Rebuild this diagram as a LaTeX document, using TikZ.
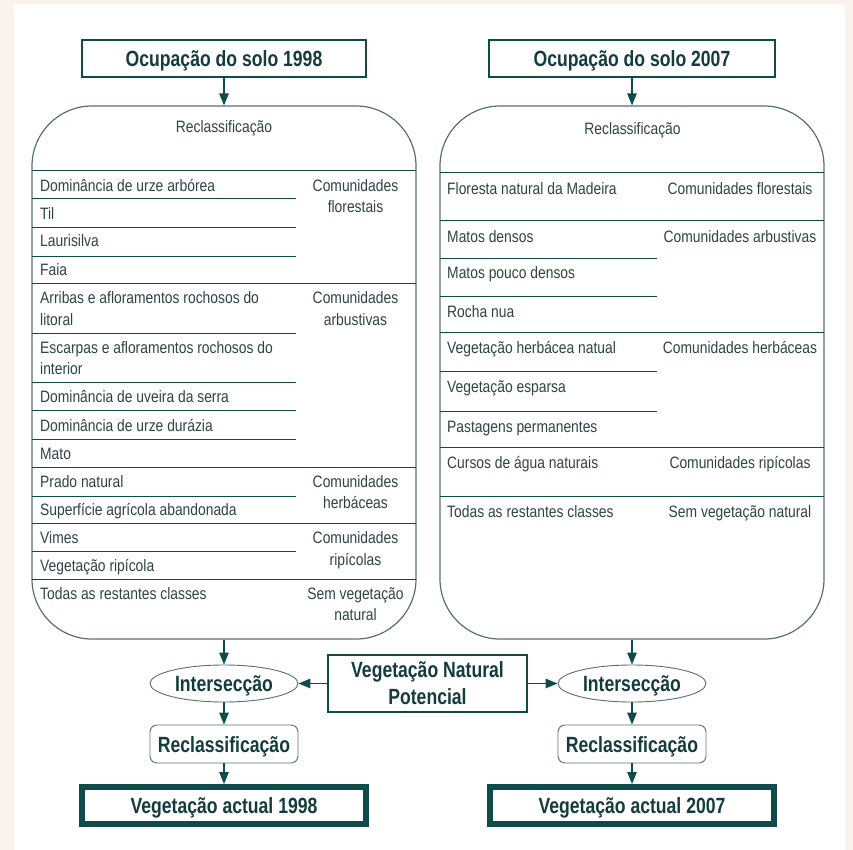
\documentclass[tikz,border=0pt]{standalone}
\usepackage{fontspec}
\setmainfont{Liberation Sans}
\newfontfamily\bodyfam[FakeStretch=0.84]{Liberation Sans}
\newfontfamily\headfam[FakeStretch=0.8]{Liberation Sans}
\usetikzlibrary{arrows.meta,shapes.geometric}
\definecolor{peach}{HTML}{FCF2EC}
\definecolor{teal1}{HTML}{0F4C49}
\definecolor{headtxt}{HTML}{143B3D}
\definecolor{bodytxt}{HTML}{2F4445}
\definecolor{edgecol}{HTML}{587170}
\begin{document}
\begin{tikzpicture}[x=1pt,y=-1pt,
  arr/.style={draw=teal1, line width=1.3pt, -{Triangle[length=12pt,width=9.5pt]}},
  headtext/.style={font=\headfam\bfseries\fontsize{22pt}{27pt}\selectfont, text=headtxt, text height=16pt, text depth=0pt, inner sep=0pt, align=center},
  hbox/.style={headtext, draw=teal1, line width=1.3pt, fill=white},
  panel/.style={draw=edgecol, line width=1.2pt, rounded corners=60pt, inner sep=0pt},
  body/.style={font=\bodyfam\fontsize{16.5pt}{20pt}\selectfont, text=bodytxt, inner sep=0pt},
  itm/.style={body, anchor=base west},
  cat/.style={body, anchor=base},
  tline/.style={draw=teal1, line width=1pt},
  ell/.style={headtext, ellipse, draw=edgecol, line width=0.9pt, minimum width=148pt, minimum height=37pt},
  rbox/.style={headtext, draw=edgecol, line width=0.9pt, rounded corners=7pt, minimum width=148pt, minimum height=38pt},
  fbox/.style={headtext, draw=teal1, line width=6pt, minimum width=284pt, minimum height=37pt},
]
% background
\fill[peach] (0,0) rectangle (853,850);
\fill[white] (14,4) rectangle (845,850);

% top boxes
\node[hbox, minimum width=284pt, minimum height=37pt] (t1) at (224,58.5) {Ocupação do solo 1998};
\node[hbox, minimum width=286pt, minimum height=37pt] (t2) at (632,58.5) {Ocupação do solo 2007};

% panels
\node[panel, minimum width=384pt, minimum height=533pt] (p1) at (224,372.5) {};
\node[panel, minimum width=384pt, minimum height=533pt] (p2) at (632,372.5) {};
\draw[arr] (t1) -- (p1);
\draw[arr] (t2) -- (p2);

\node[cat] (r1) at (224,133) {Reclassificação};
\node[cat] (r2) at (632.5,135) {Reclassificação};

% left table lines
\foreach \y in {171,283,467,523,579} \draw[tline] (32,\y) -- (416,\y);
\foreach \y in {199,228,256,333,382,410,439,496,551} \draw[tline] (32,\y) -- (296,\y);

% left items
\node[itm] (a1) at (40,192) {Dominância de urze arbórea};
\node[itm] (a2) at (40,219) {Til};
\node[itm] (a3) at (40,247) {Laurisilva};
\node[itm] (a4) at (40,275) {Faia};
\node[itm] (a5) at (40,303) {Arribas e afloramentos rochosos do};
\node[itm] (a5b) at (40,325) {litoral};
\node[itm] (a6) at (40,353) {Escarpas e afloramentos rochosos do};
\node[itm] (a6b) at (40,374) {interior};
\node[itm] (a7) at (40,402) {Dominância de uveira da serra};
\node[itm] (a8) at (40,431) {Dominância de urze durázia};
\node[itm] (a9) at (40,459) {Mato};
\node[itm] (a10) at (40,487) {Prado natural};
\node[itm] (a11) at (40,515) {Superfície agrícola abandonada};
\node[itm] (a12) at (40,543) {Vimes};
\node[itm] (a13) at (40,571) {Vegetação ripícola};
\node[itm] (a14) at (40,599) {Todas as restantes classes};

% left categories
\node[cat] (c1) at (355.5,192) {Comunidades};
\node[cat] (c1b) at (355.5,213) {florestais};
\node[cat] (c2) at (355.5,303) {Comunidades};
\node[cat] (c2b) at (355.5,325) {arbustivas};
\node[cat] (c3) at (355.5,487) {Comunidades};
\node[cat] (c3b) at (355.5,508) {herbáceas};
\node[cat] (c4) at (355.5,543) {Comunidades};
\node[cat] (c4b) at (355.5,565) {ripícolas};
\node[cat] (c5) at (355.5,599) {Sem vegetação};
\node[cat] (c5b) at (355.5,620) {natural};

% right table lines
\foreach \y in {173,221,332,447,496} \draw[tline] (440,\y) -- (824,\y);
\foreach \y in {258,296,371,411} \draw[tline] (440,\y) -- (657,\y);

% right items
\node[itm] (b1) at (447,195) {Floresta natural da Madeira};
\node[itm] (b2) at (447,242) {Matos densos};
\node[itm] (b3) at (447,278) {Matos pouco densos};
\node[itm] (b4) at (447,317) {Rocha nua};
\node[itm] (b5) at (447,353) {Vegetação herbácea natual};
\node[itm] (b6) at (447,392) {Vegetação esparsa};
\node[itm] (b7) at (447,432) {Pastagens permanentes};
\node[itm] (b8) at (447,468) {Cursos de água naturais};
\node[itm] (b9) at (447,517) {Todas as restantes classes};

% right categories
\node[cat] (d1) at (740,195) {Comunidades florestais};
\node[cat] (d2) at (740,242) {Comunidades arbustivas};
\node[cat] (d3) at (740,353) {Comunidades herbáceas};
\node[cat] (d4) at (740,468) {Comunidades ripícolas};
\node[cat] (d5) at (740,517) {Sem vegetação natural};

% bottom part
\node[ell] (e1) at (224,683.5) {Intersecção};
\node[ell] (e2) at (632,683.5) {Intersecção};
\node[hbox, line width=1.2pt, text height=42pt, minimum width=199pt, minimum height=57pt] (v) at (427.5,683.5) {Vegetação Natural\\Potencial};
\node[rbox] (rc1) at (224,744) {Reclassificação};
\node[rbox] (rc2) at (632,744) {Reclassificação};
\node[fbox] (f1) at (224,805.5) {Vegetação actual 1998};
\node[fbox] (f2) at (632,805.5) {Vegetação actual 2007};

\draw[arr] (p1) -- (e1);
\draw[arr] (p2) -- (e2);
\draw[arr] (v) -- (e1);
\draw[arr] (v) -- (e2);
\draw[arr] (e1) -- (rc1);
\draw[arr] (e2) -- (rc2);
\draw[arr] (rc1) -- (f1);
\draw[arr] (rc2) -- (f2);
\end{tikzpicture}
\end{document}
